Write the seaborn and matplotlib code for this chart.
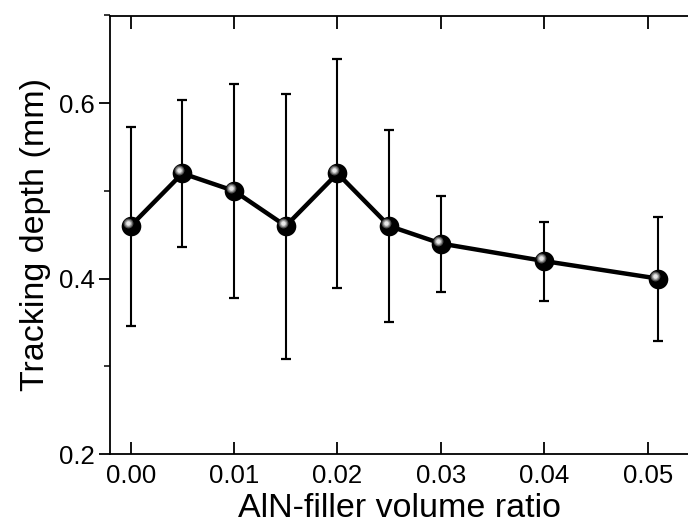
import numpy as np
import pandas as pd
import seaborn as sns
import matplotlib
matplotlib.use("Agg")
import matplotlib.pyplot as plt
from matplotlib.transforms import ScaledTranslation
from matplotlib.ticker import MultipleLocator

ratio = [0.000, 0.005, 0.010, 0.015, 0.020, 0.025, 0.030, 0.040, 0.051]
depth = [0.46, 0.52, 0.50, 0.46, 0.52, 0.46, 0.44, 0.42, 0.40]
upper = [0.573, 0.604, 0.622, 0.611, 0.650, 0.570, 0.494, 0.465, 0.470]
lower = [0.346, 0.436, 0.378, 0.308, 0.389, 0.350, 0.385, 0.375, 0.329]
xticks = [0.00, 0.01, 0.02, 0.03, 0.04, 0.05]
yticks = [0.2, 0.4, 0.6]

df = pd.DataFrame({"ratio": ratio, "depth": depth, "upper": upper, "lower": lower})

sns.set_theme(style="ticks")
plt.rcParams['font.family'] = ['Liberation Sans', 'DejaVu Sans']

fig = plt.figure(figsize=(6.88, 5.25), dpi=100)
ax = fig.add_axes([110/688, 1 - 454/525, 1 - 110/688, (454 - 15.5)/525])

ax.errorbar(df["ratio"], df["depth"],
            yerr=[df["depth"] - df["lower"], df["upper"] - df["depth"]],
            fmt="none", ecolor="black", elinewidth=1.5, capsize=3.8, capthick=1.6, zorder=2)
sns.lineplot(data=df, x="ratio", y="depth", ax=ax, color="black", linewidth=3.2,
             marker=None, zorder=3, sort=False)
# sphere markers
ax.scatter(df["ratio"], df["depth"], s=200, color="black", zorder=4, linewidths=0)
off = ScaledTranslation(-3/100, 3/100, fig.dpi_scale_trans)
for s, c in [(50, "#505050"), (28, "#9a9a9a"), (11, "#e8e8e8")]:
    ax.scatter(df["ratio"], df["depth"], s=s, color=c, zorder=5, linewidths=0,
               transform=ax.transData + off)

ax.set_xlim(-0.002, 0.0539)
ax.set_ylim(0.2, 0.7)
ax.set_xticks(xticks)
ax.set_xticklabels([f"{v:.2f}" for v in xticks])
ax.set_yticks(yticks)
ax.set_yticklabels([f"{v:.1f}" for v in yticks])
ax.yaxis.set_minor_locator(MultipleLocator(0.1))

ax.tick_params(axis="x", which="both", direction="in", top=True, bottom=True,
               length=9, width=1.3, labelsize=18.5, pad=7, colors="black")
ax.tick_params(axis="y", which="major", direction="out", length=8, width=1.3,
               labelsize=18.5, pad=3, colors="black")
ax.tick_params(axis="y", which="minor", direction="out", length=4, width=1.3)
for side in ["left", "bottom", "top"]:
    ax.spines[side].set_linewidth(1.3)
    ax.spines[side].set_color("black")
ax.spines["right"].set_visible(False)

ax.set_xlabel("AlN-filler volume ratio", fontsize=24.5, labelpad=4, color="black")
ax.set_ylabel("Tracking depth (mm)", fontsize=24.5, labelpad=6, color="black")

fig.savefig("out.png", dpi=100)
